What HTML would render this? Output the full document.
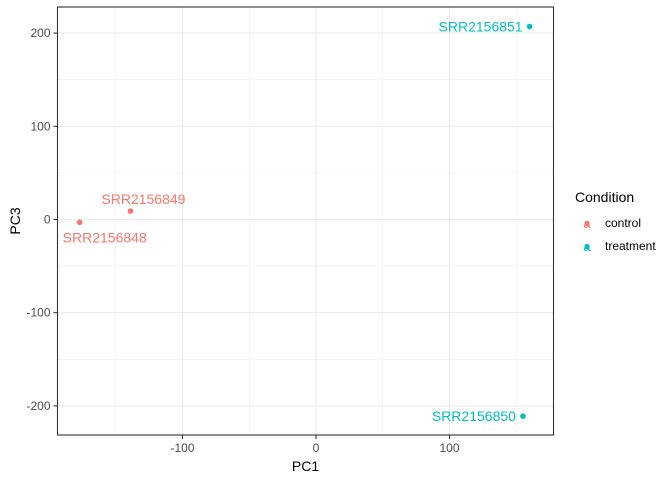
<!DOCTYPE html>
<html><head><meta charset="utf-8"><style>body{margin:0;background:#fff}svg{display:block;font-family:"Liberation Sans",sans-serif}</style></head>
<body>
<svg id="c" width="672" height="480"></svg>
<script>
const samples=["SRR2156848","SRR2156849","SRR2156850","SRR2156851"];
const pc1=[-177,-139,155,160];
const pc3=[-3,9,-211,207];
const cond=["control","control","treatment","treatment"];
const xTicks=[-100,0,100];
const yTicks=[-200,-100,0,100,200];
const colors={control:"#F8766D",treatment:"#00BFC4"};
const L=57.5,R=553.5,T=7,B=435;
const X=v=>316+v*1.335, Y=v=>219.5-v*0.932;
const s=document.getElementById('c');
const NS="http://www.w3.org/2000/svg";
function mk(t,a,txt){const e=document.createElementNS(NS,t);for(const k in a)e.setAttribute(k,a[k]);if(txt!==undefined)e.textContent=txt;s.appendChild(e);return e;}
let e;
e=mk('rect',{x:L,y:T,width:R-L,height:B-T,fill:'#fff'});


[-150,-50,50,150].forEach(v=>{e=mk('line',{x1:X(v),x2:X(v),y1:T,y2:B,stroke:'#f0f0f0','stroke-width':0.6});

});
[-150,-50,50,150].forEach(v=>{e=mk('line',{x1:L,x2:R,y1:Y(v),y2:Y(v),stroke:'#f0f0f0','stroke-width':0.6});

});
xTicks.forEach(v=>{e=mk('line',{x1:X(v),x2:X(v),y1:T,y2:B,stroke:'#ebebeb','stroke-width':1.1});


e=mk('line',{x1:X(v),x2:X(v),y1:B,y2:B+4,stroke:'#333','stroke-width':1.1});


e=mk('text',{x:X(v),y:B+17,'text-anchor':'middle','font-size':12,fill:'#4d4d4d'},v);

});
yTicks.forEach(v=>{e=mk('line',{x1:L,x2:R,y1:Y(v),y2:Y(v),stroke:'#ebebeb','stroke-width':1.1});


e=mk('line',{x1:L-4,x2:L,y1:Y(v),y2:Y(v),stroke:'#333','stroke-width':1.1});


e=mk('text',{x:L-7,y:Y(v)+4,'text-anchor':'end','font-size':12,fill:'#4d4d4d'},v);

});
e=mk('rect',{x:L,y:T,width:R-L,height:B-T,fill:'none',stroke:'#333','stroke-width':1.1});


samples.forEach((n,i)=>{const c=colors[cond[i]];
e=mk('circle',{cx:X(pc1[i]),cy:Y(pc3[i]),r:2.8,fill:c});


let lx=X(pc1[i]),ly=Y(pc3[i]),anc='middle';
if(i==0){ly+=20;lx+=25;}else if(i==1){ly-=7;lx+=13;}else{lx-=7;ly+=5;anc='end';}
e=mk('text',{x:lx,y:ly,'text-anchor':anc,'font-size':14,fill:c},n);

});
e=mk('text',{x:(L+R)/2,y:471,'text-anchor':'middle','font-size':14,fill:'#000'},'PC1');


e=mk('text',{x:20,y:(T+B)/2,'text-anchor':'middle','font-size':14,fill:'#000',transform:`rotate(-90 20 ${(T+B)/2})`},'PC3');


e=mk('text',{x:575,y:202,'font-size':14,fill:'#000'},'Condition');


["control","treatment"].forEach((k,i)=>{const y=223+i*23;
e=mk('text',{x:587,y:y+5,'text-anchor':'middle','font-size':13,fill:colors[k]},'a');


e=mk('circle',{cx:587,cy:y+1,r:2.4,fill:colors[k]});


e=mk('text',{x:605,y:y+4,'font-size':12,fill:'#000'},k);

});
</script>
</body></html>
